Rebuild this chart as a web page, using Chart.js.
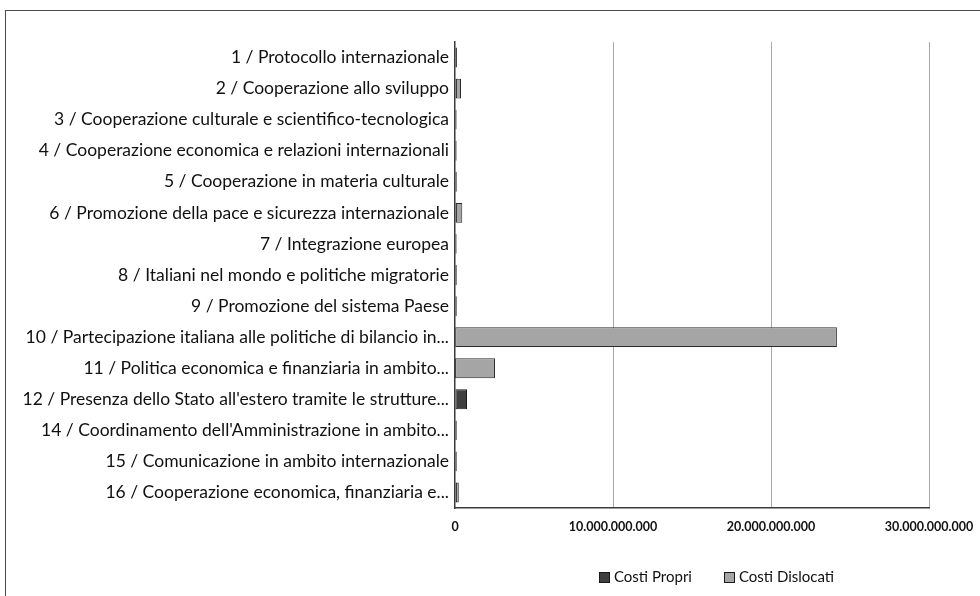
<!DOCTYPE html>
<html>
<head>
<meta charset="utf-8">
<script src="https://cdn.jsdelivr.net/npm/chart.js@4/dist/chart.umd.min.js"></script>
<style>
  html, body { margin: 0; padding: 0; background: #fff; }
  #wrap { position: relative; width: 980px; height: 596px; overflow: hidden; }
  #frame { position: absolute; left: 5px; top: 10px; width: 1000px; height: 620px;
           border: 1.5px solid #4a4a4a; box-sizing: border-box; }
  #legend { position: absolute; left: 599px; top: 567px; font: 15px Lato, sans-serif; color: #111; }
  #legend span.box { display: inline-block; width: 9px; height: 9px; border: 1px solid #1a1a1a;
                     margin-right: 4px; vertical-align: -1px; }
  #legend span.item { margin-right: 32px; }
</style>
</head>
<body>
<div id="wrap">
  <div id="frame"></div>
  <canvas id="barChart" width="980" height="596"></canvas>
  <div id="legend"></div>
</div>
<script>
const categories = [
    '1 / Protocollo internazionale',
    '2 / Cooperazione allo sviluppo',
    '3 / Cooperazione culturale e scientifico-tecnologica',
    '4 / Cooperazione economica e relazioni internazionali',
    '5 / Cooperazione in materia culturale',
    '6 / Promozione della pace e sicurezza internazionale',
    '7 / Integrazione europea',
    '8 / Italiani nel mondo e politiche migratorie',
    '9 / Promozione del sistema Paese',
    '10 / Partecipazione italiana alle politiche di bilancio in...',
    '11 / Politica economica e finanziaria in ambito...',
    "12 / Presenza dello Stato all'estero tramite le strutture...",
    "14 / Coordinamento dell'Amministrazione in ambito...",
    '15 / Comunicazione in ambito internazionale',
    '16 / Cooperazione economica, finanziaria e...'
];
const costiPropri = [
    120000000, 60000000, 100000000, 100000000, 110000000, 60000000, 100000000, 110000000,
    110000000, 20000000, 10000000, 760000000, 110000000, 110000000, 60000000
];
const costiDislocati = [
    0, 320000000, 0, 0, 0, 400000000, 0, 0,
    0, 24150000000, 2520000000, 0, 0, 0, 180000000
];
const seriesNames = ['Costi Propri', 'Costi Dislocati'];
const xTicks = [0, 10000000000, 20000000000, 30000000000];

const fillColors = ['#3f3f3f', '#a5a5a5'];
const lineColors = ['#1a1a1a', '#2a2a2a'];

function formatIt(v) {
    return String(Math.round(v)).replace(/\B(?=(\d{3})+(?!\d))/g, '.');
}

document.addEventListener('DOMContentLoaded', function () {
    const ctx = document.getElementById('barChart').getContext('2d');
    const barChart = new Chart(ctx, {
        type: 'bar',
        data: {
            labels: categories,
            datasets: [{
                label: seriesNames[0],
                data: costiPropri,
                backgroundColor: fillColors[0],
                borderColor: lineColors[0],
                borderWidth: 1,
                borderSkipped: false
            }, {
                label: seriesNames[1],
                data: costiDislocati,
                backgroundColor: fillColors[1],
                borderColor: lineColors[1],
                borderWidth: 1,
                borderSkipped: false
            }]
        },
        options: {
            indexAxis: 'y',
            responsive: false,
            animation: false,
            categoryPercentage: 1,
            barPercentage: 0.64,
            layout: { padding: { top: 42, right: 51, bottom: 58, left: 0 } },
            plugins: {
                legend: { display: false },
                tooltip: { enabled: false }
            },
            scales: {
                x: {
                    stacked: true,
                    min: 0,
                    max: 30000000000,
                    afterBuildTicks: function (scale) {
                        scale.ticks = xTicks.map(function (v) { return { value: v }; });
                    },
                    afterFit: function (scale) {
                        scale.height = 30;
                        scale.paddingRight = 0;
                        scale.paddingLeft = 0;
                    },
                    grid: {
                        drawTicks: false,
                        color: function (c) { return c.tick && c.tick.value === 0 ? 'rgba(0,0,0,0)' : '#a8a8a8'; },
                        lineWidth: 1
                    },
                    border: { display: true, color: '#3a3a3a', width: 1.5 },
                    ticks: {
                        padding: 11,
                        color: '#111',
                        font: { family: 'Lato', size: 12.5, weight: 'bold' },
                        callback: function (v) { return formatIt(v); }
                    }
                },
                y: {
                    stacked: true,
                    afterFit: function (scale) { scale.width = 455; },
                    grid: { display: false, drawTicks: false },
                    border: { display: true, color: '#3a3a3a', width: 1.5 },
                    ticks: {
                        padding: 6,
                        autoSkip: false,
                        color: '#111',
                        font: { family: 'Lato', size: 17.5 }
                    }
                }
            }
        }
    });

    const legend = document.getElementById('legend');
    barChart.data.datasets.forEach(function (ds) {
        const item = document.createElement('span');
        item.className = 'item';
        item.innerHTML = '<span class="box" style="background:' + ds.backgroundColor + '"></span>' + ds.label;
        legend.appendChild(item);
    });
});
</script>
</body>
</html>
